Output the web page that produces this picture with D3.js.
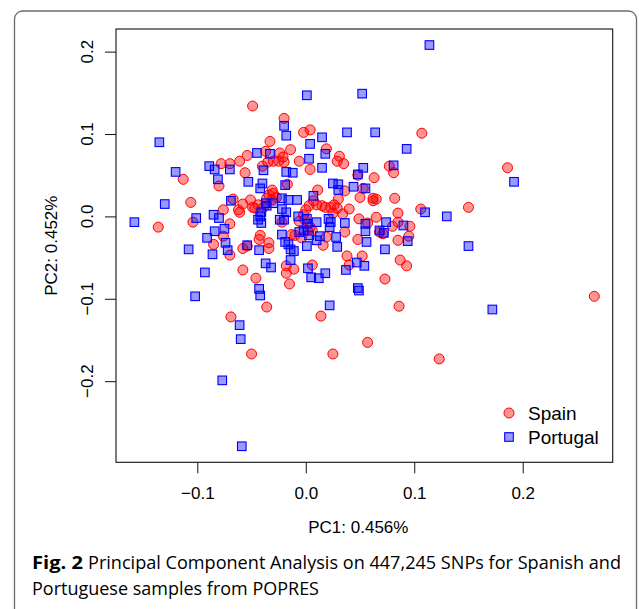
<!DOCTYPE html>
<html>
<head>
<meta charset="utf-8">
<script src="https://cdn.jsdelivr.net/npm/d3@7"></script>
<style>
  body { margin: 0; background: #fff; }
  svg { display: block; }
</style>
</head>
<body>
<svg id="chart" width="639" height="609"></svg>
<script>
// PC1 / PC2 scores
var spainPoints = [
  [-0.049, 0.134], [-0.020, 0.119], [-0.002, 0.102], [0.004, 0.105], [-0.033, 0.091],
  [0.107, 0.101], [0.019, 0.082], [-0.014, 0.081], [-0.037, 0.079], [-0.021, 0.072],
  [-0.054, 0.074], [-0.024, 0.077], [-0.061, 0.067], [-0.070, 0.064], [-0.078, 0.064],
  [-0.025, 0.067], [-0.020, 0.066], [-0.030, 0.067], [-0.006, 0.067], [0.031, 0.073],
  [0.029, 0.067], [0.035, 0.064], [-0.035, 0.066], [-0.040, 0.061], [0.004, 0.057],
  [-0.056, 0.053], [0.077, 0.061], [0.081, 0.053], [0.048, 0.050], [0.063, 0.047],
  [0.186, 0.059], [-0.113, 0.045], [-0.080, 0.037], [-0.017, 0.039], [0.011, 0.032],
  [-0.031, 0.032], [-0.030, 0.028], [-0.034, 0.026], [-0.027, 0.023], [-0.036, 0.022],
  [-0.031, 0.020], [0.036, 0.031], [0.053, 0.034], [0.030, 0.021], [0.050, 0.023],
  [0.062, 0.022], [0.065, 0.021], [0.062, 0.019], [0.082, 0.022], [-0.106, 0.017],
  [-0.067, 0.021], [-0.051, 0.020], [-0.058, 0.015], [-0.049, 0.011], [-0.062, 0.008],
  [-0.047, 0.010], [-0.076, 0.008], [-0.061, 0.005], [-0.044, 0.014], [-0.039, 0.011],
  [0.003, 0.013], [0.000, 0.008], [-0.002, 0.002], [0.007, 0.019], [0.010, 0.014],
  [0.015, 0.013], [0.018, 0.011], [0.023, 0.011], [0.026, 0.014], [0.029, 0.010],
  [0.025, 0.004], [0.034, 0.003], [0.040, 0.009], [0.106, 0.009], [0.150, 0.011],
  [0.085, 0.004], [-0.006, -0.006], [-0.104, -0.007], [-0.136, -0.013], [-0.070, -0.009],
  [-0.022, -0.007], [0.004, -0.013], [-0.001, -0.004], [0.006, -0.017], [0.049, -0.003],
  [0.057, -0.008], [0.065, -0.001], [0.080, -0.012], [0.085, -0.007], [0.096, -0.012],
  [-0.076, -0.024], [-0.042, -0.023], [-0.043, -0.028], [-0.034, -0.032], [-0.034, -0.039],
  [-0.085, -0.034], [-0.058, -0.039], [-0.054, -0.036], [-0.070, -0.047], [-0.013, -0.022],
  [-0.010, -0.023], [-0.004, -0.026], [0.002, -0.017], [0.019, -0.025], [0.016, -0.035],
  [0.036, -0.019], [0.048, -0.028], [0.068, -0.019], [0.071, -0.021], [0.085, -0.029],
  [0.095, -0.024], [0.038, -0.048], [0.052, -0.048], [0.040, -0.059], [0.087, -0.053],
  [0.093, -0.060], [0.006, -0.059], [-0.058, -0.065], [-0.046, -0.075], [-0.018, -0.060],
  [-0.018, -0.069], [-0.011, -0.064], [-0.015, -0.082], [0.073, -0.076], [-0.036, -0.110],
  [-0.069, -0.122], [0.014, -0.121], [0.086, -0.109], [-0.050, -0.167], [0.025, -0.167],
  [0.057, -0.153], [0.123, -0.173], [0.266, -0.097]
];

var portugalPoints = [
  [0.114, 0.208], [0.001, 0.147], [0.052, 0.149], [-0.135, 0.090], [-0.120, 0.054],
  [-0.130, 0.015], [-0.158, -0.007], [-0.020, 0.110], [-0.018, 0.098], [0.004, 0.088],
  [0.015, 0.096], [-0.045, 0.077], [-0.033, 0.076], [0.003, 0.070], [0.018, 0.076],
  [0.038, 0.102], [0.064, 0.102], [0.093, 0.082], [-0.089, 0.061], [-0.084, 0.057],
  [-0.070, 0.057], [-0.039, 0.056], [-0.018, 0.054], [-0.012, 0.053], [0.015, 0.059],
  [-0.081, 0.045], [-0.053, 0.042], [-0.040, 0.040], [-0.042, 0.034], [-0.019, 0.038],
  [0.053, 0.059], [0.048, 0.051], [0.081, 0.062], [0.192, 0.042], [0.025, 0.040],
  [0.030, 0.039], [0.030, 0.032], [0.044, 0.036], [0.055, 0.034], [0.007, 0.025],
  [-0.069, 0.019], [-0.037, 0.016], [-0.030, 0.016], [-0.022, 0.022], [-0.016, 0.020],
  [-0.008, 0.020], [-0.036, 0.013], [-0.041, 0.005], [-0.042, 0.000], [-0.022, 0.009],
  [-0.018, 0.005], [-0.020, -0.004], [-0.024, -0.004], [-0.007, 0.000], [0.001, -0.003],
  [0.010, -0.007], [0.021, -0.003], [0.023, -0.007], [-0.101, -0.002], [-0.085, 0.002],
  [-0.080, -0.002], [-0.041, -0.008], [-0.044, -0.004], [0.001, -0.009], [0.036, -0.008],
  [0.055, -0.009], [0.074, -0.007], [0.090, -0.011], [0.022, -0.013], [0.068, -0.017],
  [0.072, -0.020], [0.055, -0.018], [0.110, 0.005], [0.130, 0.000], [-0.084, -0.018],
  [-0.075, -0.015], [-0.091, -0.026], [-0.074, -0.032], [-0.054, -0.035], [-0.043, -0.041],
  [-0.022, -0.022], [-0.019, -0.031], [-0.016, -0.034], [-0.014, -0.040], [-0.011, -0.042],
  [-0.006, -0.019], [-0.002, -0.017], [0.003, -0.023], [0.001, -0.036], [0.013, -0.024],
  [0.010, -0.029], [0.028, -0.025], [0.029, -0.037], [0.056, -0.031], [0.073, -0.040],
  [0.094, -0.030], [0.150, -0.036], [-0.108, -0.040], [-0.086, -0.046], [-0.072, -0.041],
  [-0.093, -0.068], [-0.102, -0.097], [-0.037, -0.057], [-0.032, -0.062], [-0.014, -0.053],
  [0.002, -0.063], [0.005, -0.074], [0.012, -0.075], [0.018, -0.069], [0.037, -0.065],
  [0.047, -0.056], [0.054, -0.060], [-0.043, -0.088], [-0.042, -0.096], [0.049, -0.090],
  [0.048, -0.087], [0.022, -0.108], [0.172, -0.113], [-0.061, -0.132], [-0.060, -0.149],
  [-0.077, -0.199], [-0.059, -0.279]
];

var xTicks = [-0.1, 0.0, 0.1, 0.2];
var yTicks = [-0.2, -0.1, 0.0, 0.1, 0.2];
var legendLabels = ["Spain", "Portugal"];
var xLabel = "PC1: 0.456%";
var yLabel = "PC2: 0.452%";
var captionBold = "Fig. 2";
var captionLine1 = "Principal Component Analysis on 447,245 SNPs for Spanish and";
var captionLine2 = "Portuguese samples from POPRES";

var svg = d3.select("#chart");
var axisFont = "'Liberation Sans', Arial, Helvetica, sans-serif";

var box = {left: 116, right: 612.7, top: 29, bottom: 462.3};

// R style ranges: data extent stretched by 4% on each side
function rRange(vals) {
  var e = d3.extent(vals);
  var pad = (e[1] - e[0]) * 0.04;
  return [e[0] - pad, e[1] + pad];
}
var allPoints = spainPoints.concat(portugalPoints);

var x = d3.scaleLinear()
  .domain(rRange(allPoints.map(function(d){ return d[0]; })))
  .range([box.left, box.right]);
var y = d3.scaleLinear()
  .domain(rRange(allPoints.map(function(d){ return d[1]; })))
  .range([box.bottom, box.top]);

// outer figure panel
svg.append("rect")
  .attr("x", 14.5).attr("y", 11)
  .attr("width", 622).attr("height", 640)
  .attr("rx", 8).attr("ry", 8)
  .attr("fill", "none")
  .attr("stroke", "#6b6b6b")
  .attr("stroke-width", 1.3);

// points: Spain first, Portugal on top
svg.append("g")
  .selectAll("circle")
  .data(spainPoints)
  .join("circle")
  .attr("cx", function(d){ return x(d[0]); })
  .attr("cy", function(d){ return y(d[1]); })
  .attr("r", 5)
  .attr("fill", "rgba(255,0,0,0.42)")
  .attr("stroke", "#ff0000")
  .attr("stroke-width", 1);

var sq = 8.6;
svg.append("g")
  .selectAll("rect")
  .data(portugalPoints)
  .join("rect")
  .attr("x", function(d){ return x(d[0]) - sq / 2; })
  .attr("y", function(d){ return y(d[1]) - sq / 2; })
  .attr("width", sq).attr("height", sq)
  .attr("fill", "rgba(0,0,255,0.4)")
  .attr("stroke", "#0000ff")
  .attr("stroke-width", 1.1);

// plot box
svg.append("rect")
  .attr("x", box.left).attr("y", box.top)
  .attr("width", box.right - box.left).attr("height", box.bottom - box.top)
  .attr("fill", "none")
  .attr("stroke", "#111")
  .attr("stroke-width", 1.1);

// x axis
var xAxis = svg.append("g")
  .attr("transform", "translate(0," + box.bottom + ")")
  .call(d3.axisBottom(x).tickValues(xTicks).tickSize(11).tickPadding(14)
    .tickFormat(d3.format(".1f")));
xAxis.select(".domain").remove();
xAxis.selectAll("line").attr("stroke", "#111");
xAxis.selectAll("text")
  .attr("font-family", axisFont)
  .attr("font-size", 17)
  .attr("fill", "#000");

// y axis, labels rotated like R's las = 0
var yAxis = svg.append("g")
  .attr("transform", "translate(" + box.left + ",0)")
  .call(d3.axisLeft(y).tickValues(yTicks).tickSize(11).tickFormat(""));
yAxis.select(".domain").remove();
yAxis.selectAll("line").attr("stroke", "#111");

svg.append("g")
  .selectAll("text")
  .data(yTicks)
  .join("text")
  .attr("transform", function(d){ return "translate(93," + y(d) + ") rotate(-90)"; })
  .attr("text-anchor", "middle")
  .attr("font-family", axisFont)
  .attr("font-size", 17)
  .text(d3.format(".1f"));

svg.append("text")
  .attr("x", (box.left + box.right) / 2 - 6)
  .attr("y", 533)
  .attr("text-anchor", "middle")
  .attr("font-family", axisFont)
  .attr("font-size", 17)
  .text(xLabel);

svg.append("text")
  .attr("transform", "translate(57," + (box.top + box.bottom) / 2 + ") rotate(-90)")
  .attr("text-anchor", "middle")
  .attr("font-family", axisFont)
  .attr("font-size", 17)
  .text(yLabel);

// legend
var legend = svg.append("g").attr("transform", "translate(509,413)");
legend.append("circle")
  .attr("cx", 0).attr("cy", 0).attr("r", 5)
  .attr("fill", "rgba(255,0,0,0.42)")
  .attr("stroke", "#ff0000");
legend.append("rect")
  .attr("x", -sq / 2).attr("y", 24 - sq / 2)
  .attr("width", sq).attr("height", sq)
  .attr("fill", "rgba(0,0,255,0.4)")
  .attr("stroke", "#0000ff")
  .attr("stroke-width", 1.1);
legend.selectAll("text")
  .data(legendLabels)
  .join("text")
  .attr("x", 19)
  .attr("y", function(d, i){ return i * 24 + 6.5; })
  .attr("font-family", axisFont)
  .attr("font-size", 19)
  .text(function(d){ return d; });

// caption
var capFont = "'Open Sans', 'Noto Sans', sans-serif";
svg.append("text")
  .attr("x", 32).attr("y", 569)
  .attr("font-family", capFont)
  .attr("font-size", 18)
  .attr("font-weight", "bold")
  .attr("textLength", 51)
  .attr("lengthAdjust", "spacingAndGlyphs")
  .text(captionBold);
svg.append("text")
  .attr("x", 88).attr("y", 569)
  .attr("font-family", capFont)
  .attr("font-size", 18)
  .attr("textLength", 533)
  .attr("lengthAdjust", "spacingAndGlyphs")
  .text(captionLine1);
svg.append("text")
  .attr("x", 32).attr("y", 595)
  .attr("font-family", capFont)
  .attr("font-size", 18)
  .attr("textLength", 287)
  .attr("lengthAdjust", "spacingAndGlyphs")
  .text(captionLine2);
</script>
</body>
</html>
